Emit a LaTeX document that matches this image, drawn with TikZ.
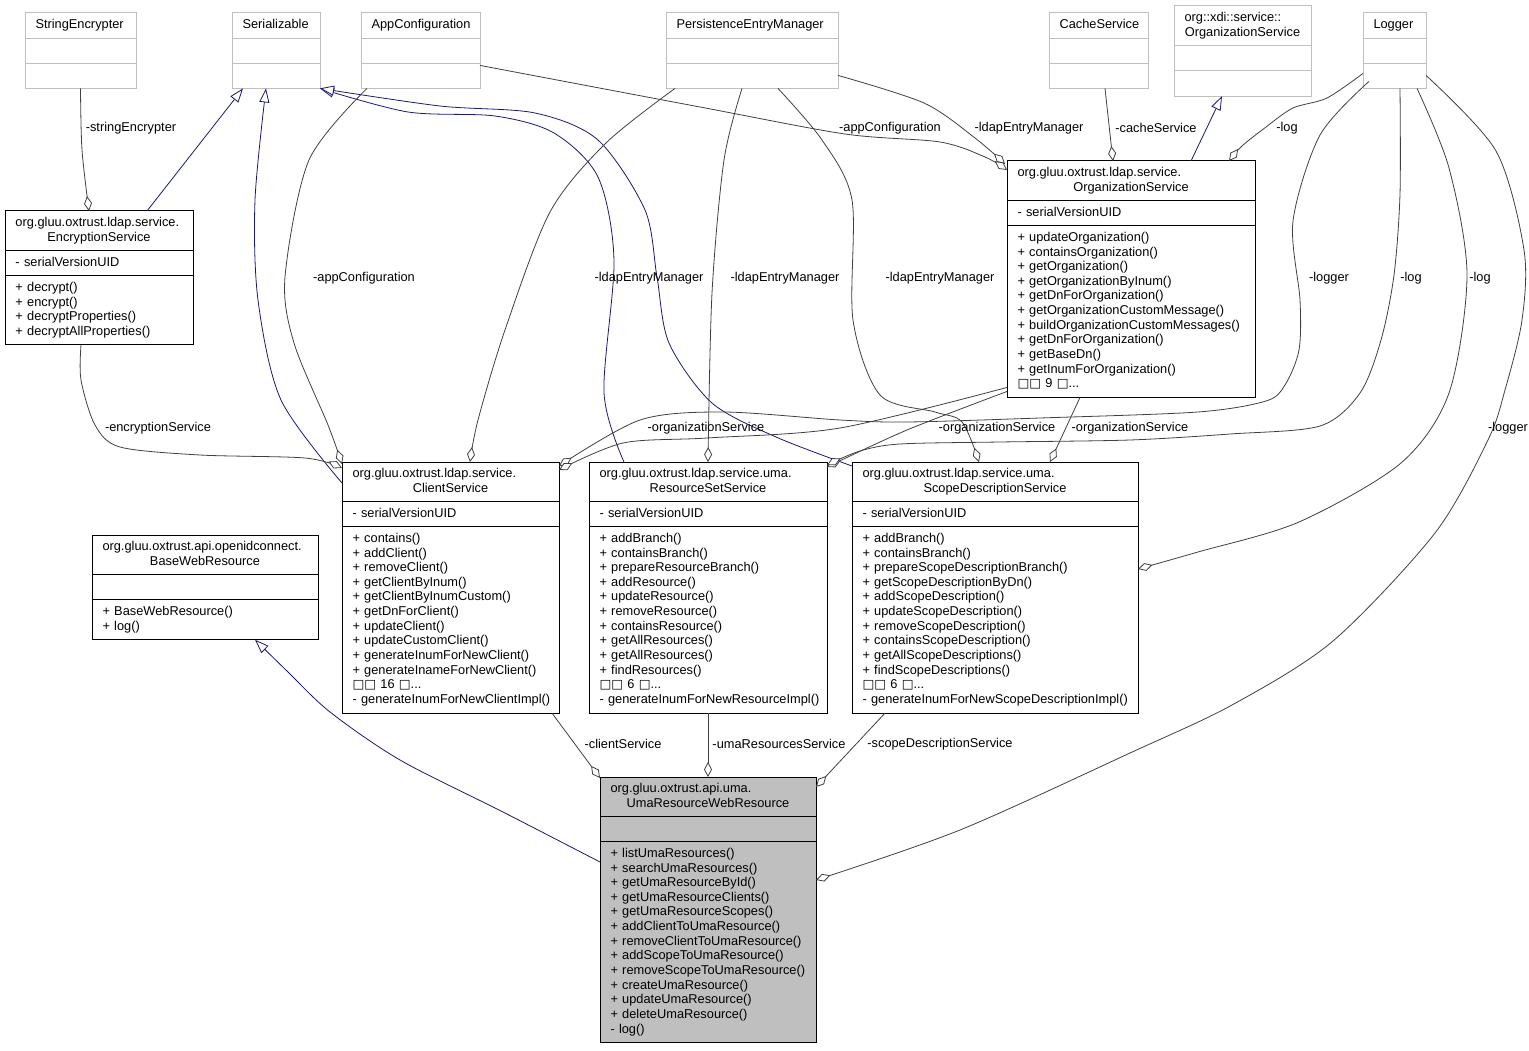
\documentclass[tikz,border=0pt]{standalone}
\usepackage{fontspec}
\setmainfont{Liberation Sans}
\newfontfamily\djfont{DejaVu Sans}
\usetikzlibrary{shapes.multipart,arrows.meta}
\definecolor{extgray}{HTML}{BFBFBF}
\definecolor{edgegray}{HTML}{404040}
\definecolor{inhblue}{HTML}{191970}
\definecolor{umafill}{HTML}{BFBFBF}
\newcommand\cfs{\fontsize{12.8}{14.64}\selectfont}
\newcommand\tofu{{\djfont\fontsize{12.5}{14.64}\selectfont\char"25A1}}
\hyphenpenalty=10000
\exhyphenpenalty=10000
\begin{document}
\begin{tikzpicture}[x=1pt,y=-1pt,
  cls/.style={rectangle split, rectangle split parts=3, draw=black, line width=1pt,
    inner xsep=10.5pt, inner ysep=4.75pt, align=left, font=\cfs, anchor=north west, outer sep=0pt},
  ext/.style={cls, draw=extgray},
  umacls/.style={cls, fill=umafill},
  agg/.style={draw=edgegray, line width=0.8pt, -{Diamond[length=15pt,width=8pt,fill=white]}},
  inh/.style={draw=inhblue, line width=0.8pt, -{Triangle[length=14pt,width=10pt,fill=white]}},
  lbl/.style={font=\cfs, inner sep=0pt},
  sm/.style={smooth, tension=0.5}
]
\useasboundingbox (0,0) rectangle (1529,1051);

% ---------- external classes ----------
\node[ext, text width=90pt] (se) at (25,13) {\centering\strut StringEncrypter\nodepart{second}\strut\nodepart{third}\strut};
\node[ext, text width=67pt] (ser) at (232,13) {\centering\strut Serializable\nodepart{second}\strut\nodepart{third}\strut};
\node[ext, text width=98pt] (app) at (361,13) {\centering\strut AppConfiguration\nodepart{second}\strut\nodepart{third}\strut};
\node[ext, text width=151pt] (pem) at (666,13) {\centering\strut PersistenceEntryManager\nodepart{second}\strut\nodepart{third}\strut};
\node[ext, text width=78pt] (cache) at (1049,13) {\centering\strut CacheService\nodepart{second}\strut\nodepart{third}\strut};
\node[ext, text width=116pt] (xdi) at (1174,6) {\strut org::xdi::service::\\\makebox[\hsize][c]{OrganizationService\strut}\nodepart{second}\strut\nodepart{third}\strut};
\node[ext, text width=42pt] (logger) at (1363,13) {\centering\strut Logger\nodepart{second}\strut\nodepart{third}\strut};

% ---------- classes ----------
\node[cls, text width=167pt] (enc) at (5,211) {\strut org.gluu.oxtrust.ldap.service.\\\makebox[\hsize][c]{EncryptionService\strut}
\nodepart{second}\strut -~serialVersionUID
\nodepart{third}\strut +~decrypt()\\+~encrypt()\\+~decryptProperties()\\+~decryptAllProperties()\strut};

\node[cls, text width=227pt] (org) at (1007,161) {\strut org.gluu.oxtrust.ldap.service.\\\makebox[\hsize][c]{OrganizationService\strut}
\nodepart{second}\strut -~serialVersionUID
\nodepart{third}\strut +~updateOrganization()\\+~containsOrganization()\\+~getOrganization()\\+~getOrganizationByInum()\\+~getDnForOrganization()\\+~getOrganizationCustomMessage()\\+~buildOrganizationCustomMessages()\\+~getDnForOrganization()\\+~getBaseDn()\\+~getInumForOrganization()\\\tofu\tofu~9~\tofu...\strut};

\node[cls, text width=196pt] (cs) at (342,462) {\strut org.gluu.oxtrust.ldap.service.\\\makebox[\hsize][c]{ClientService\strut}
\nodepart{second}\strut -~serialVersionUID
\nodepart{third}\strut +~contains()\\+~addClient()\\+~removeClient()\\+~getClientByInum()\\+~getClientByInumCustom()\\+~getDnForClient()\\+~updateClient()\\+~updateCustomClient()\\+~generateInumForNewClient()\\+~generateInameForNewClient()\\\tofu\tofu~16~\tofu...\\-~generateInumForNewClientImpl()\strut};

\node[cls, text width=217pt] (rss) at (589,462) {\strut org.gluu.oxtrust.ldap.service.uma.\\\makebox[\hsize][c]{ResourceSetService\strut}
\nodepart{second}\strut -~serialVersionUID
\nodepart{third}\strut +~addBranch()\\+~containsBranch()\\+~prepareResourceBranch()\\+~addResource()\\+~updateResource()\\+~removeResource()\\+~containsResource()\\+~getAllResources()\\+~getAllResources()\\+~findResources()\\\tofu\tofu~6~\tofu...\\-~generateInumForNewResourceImpl()\strut};

\node[cls, text width=265pt] (sds) at (852,462) {\strut org.gluu.oxtrust.ldap.service.uma.\\\makebox[\hsize][c]{ScopeDescriptionService\strut}
\nodepart{second}\strut -~serialVersionUID
\nodepart{third}\strut +~addBranch()\\+~containsBranch()\\+~prepareScopeDescriptionBranch()\\+~getScopeDescriptionByDn()\\+~addScopeDescription()\\+~updateScopeDescription()\\+~removeScopeDescription()\\+~containsScopeDescription()\\+~getAllScopeDescriptions()\\+~findScopeDescriptions()\\\tofu\tofu~6~\tofu...\\-~generateInumForNewScopeDescriptionImpl()\strut};

\node[cls, text width=205pt] (bwr) at (92,535) {\strut org.gluu.oxtrust.api.openidconnect.\\\makebox[\hsize][c]{BaseWebResource\strut}
\nodepart{second}\strut
\nodepart{third}\strut +~BaseWebResource()\\+~log()\strut};

\node[umacls, text width=195pt] (uma) at (600,777) {\strut org.gluu.oxtrust.api.uma.\\\makebox[\hsize][c]{UmaResourceWebResource\strut}
\nodepart{second}\strut
\nodepart{third}\strut +~listUmaResources()\\+~searchUmaResources()\\+~getUmaResourceById()\\+~getUmaResourceClients()\\+~getUmaResourceScopes()\\+~addClientToUmaResource()\\+~removeClientToUmaResource()\\+~addScopeToUmaResource()\\+~removeScopeToUmaResource()\\+~createUmaResource()\\+~updateUmaResource()\\+~deleteUmaResource()\\-~log()\strut};

% ---------- inheritance ----------
\draw[inh] ([xshift=142pt]enc.north west) -- ([xshift=11pt]ser.south west);
\draw[inh] plot[sm] coordinates {([yshift=-21pt]cs.north west) (281,400) (258,300) (255,200) ([xshift=34pt]ser.south west)};
\draw[inh] plot[sm] coordinates {([xshift=35pt]rss.north west) (604,393) (614,260) (598,177) (554,133) (495,116) (408,112) (ser.south east)};
\draw[inh] plot[sm] coordinates {([yshift=-4pt]sds.north west) (776,437) (712,403) (669,343) (657,277) (645,210) (598,140) (535,113) (440,106) (ser.south east)};
\draw[inh] plot[sm] coordinates {([yshift=-85pt]uma.north west) (503,812) (400,760) (330,712) (288,672) ([xshift=163pt]bwr.south west)};
\draw[inh] ([xshift=184pt]org.north west) -- ([xshift=48pt]xdi.south west);

% ---------- aggregation ----------
\draw[agg] plot[sm] coordinates {(se.south) (82,150) ([xshift=84pt]enc.north west)};
\draw[agg] plot[sm] coordinates {([xshift=6pt]app.south west) (309,160) (285,277) (294,343) (328,425) ([yshift=-2pt]cs.north west)};
\draw[agg] plot[sm] coordinates {([xshift=76pt]enc.south west) (81,380) (95,425) (120,447) (200,455) (305,458) ([yshift=-6pt]cs.north west)};
\draw[agg] plot[sm] coordinates {([xshift=9pt]pem.south west) (606,143) (550,212) (505,330) (478,420) ([xshift=128pt]cs.north west)};
\draw[agg] plot[sm] coordinates {([xshift=76pt]pem.south west) (724,160) (712,293) (rss.north)};
\draw[agg] plot[sm] coordinates {([xshift=112pt]pem.south west) (822,140) (852,200) (853,320) (880,395) (935,412) (962,422) ([xshift=127pt]sds.north west)};
\draw[agg] plot[sm] coordinates {([yshift=13pt]pem.south east) (924,103) (975,138) ([xshift=-2pt,yshift=-3pt]org.north west)};
\draw[agg] plot[sm] coordinates {([yshift=23pt]app.south east) (700,107) (845,134) (940,142) (985,157) ([yshift=-9pt]org.north west)};
\draw[agg] plot[sm] coordinates {([xshift=56pt]cache.south west) (1109,125) ([xshift=106pt]org.north west)};
\draw[agg] plot[sm] coordinates {([yshift=15pt]logger.south west) (1327,98) (1293,108) (1266,127) (1242,146) ([xshift=222pt]org.north west)};
\draw[agg] plot[sm] coordinates {([xshift=6pt,yshift=7pt]logger.south west) (1320,135) (1293,221) (1300,300) (1299,350) (1285,385) (1266,401) (1198,412) (1040,418) (907,422) (840,420) (723,412) (640,420) ([yshift=-4pt]cs.north east)};
\draw[agg] plot[sm] coordinates {([yshift=10pt]org.south west) (840,428) (707,438) (623,443) ([yshift=-8pt]cs.north east)};
\draw[agg] plot[sm] coordinates {([yshift=6pt]org.south west) (907,430) ([yshift=-5pt]rss.north east)};
\draw[agg] plot[sm] coordinates {([xshift=37pt]logger.south west) (1400,194) (1394,275) (1381,340) (1360,393) (1320,426) (1230,434) (1130,440) (1000,442) (900,444) (860,451) ([yshift=-3pt]rss.north east)};
\draw[agg] ([xshift=73pt]org.south west) -- ([xshift=198pt]sds.north west);
\draw[agg] plot[sm] coordinates {([xshift=54pt]logger.south west) (1449,168) (1467,275) (1449,393) (1401,463) (1299,522) (1198,552) ([yshift=-107pt]sds.north east)};
\draw[agg] plot[sm] coordinates {([yshift=13pt]logger.south east) (1496,151) (1524,250) (1522,320) (1505,390) (1488,440) (1435,533) (1333,641) (1232,705) (1130,753) (960,830) ([yshift=-103pt]uma.north east)};
\draw[agg] ([xshift=-7pt]cs.south east) -- ([yshift=-1pt]uma.north west);
\draw[agg] (rss.south) -- (uma.north);
\draw[agg] ([xshift=33pt]sds.south west) -- ([yshift=-10pt]uma.north east);

% ---------- labels ----------
\node[lbl] (l1) at (131,128) {-stringEncrypter};
\node[lbl] (l2) at (364,278) {-appConfiguration};
\node[lbl] (l3) at (649,278) {-ldapEntryManager};
\node[lbl] (l4) at (785,278) {-ldapEntryManager};
\node[lbl] (l5) at (940,278) {-ldapEntryManager};
\node[lbl] (l6) at (890,128) {-appConfiguration};
\node[lbl] (l7) at (1029,128) {-ldapEntryManager};
\node[lbl] (l8) at (1156,128) {-cacheService};
\node[lbl] (l9) at (1287,128) {-log};
\node[lbl] (l10) at (1329,278) {-logger};
\node[lbl] (l11) at (1411,278) {-log};
\node[lbl] (l12) at (1480,278) {-log};
\node[lbl] (l13) at (1508,428) {-logger};
\node[lbl] (l14) at (158,428) {-encryptionService};
\node[lbl] (l15) at (706,428) {-organizationService};
\node[lbl] (l16) at (997,428) {-organizationService};
\node[lbl] (l17) at (1130,428) {-organizationService};
\node[lbl] (l18) at (623,744) {-clientService};
\node[lbl] (l19) at (779,744) {-umaResourcesService};
\node[lbl] (l20) at (940,744) {-scopeDescriptionService};
\end{tikzpicture}
\end{document}
